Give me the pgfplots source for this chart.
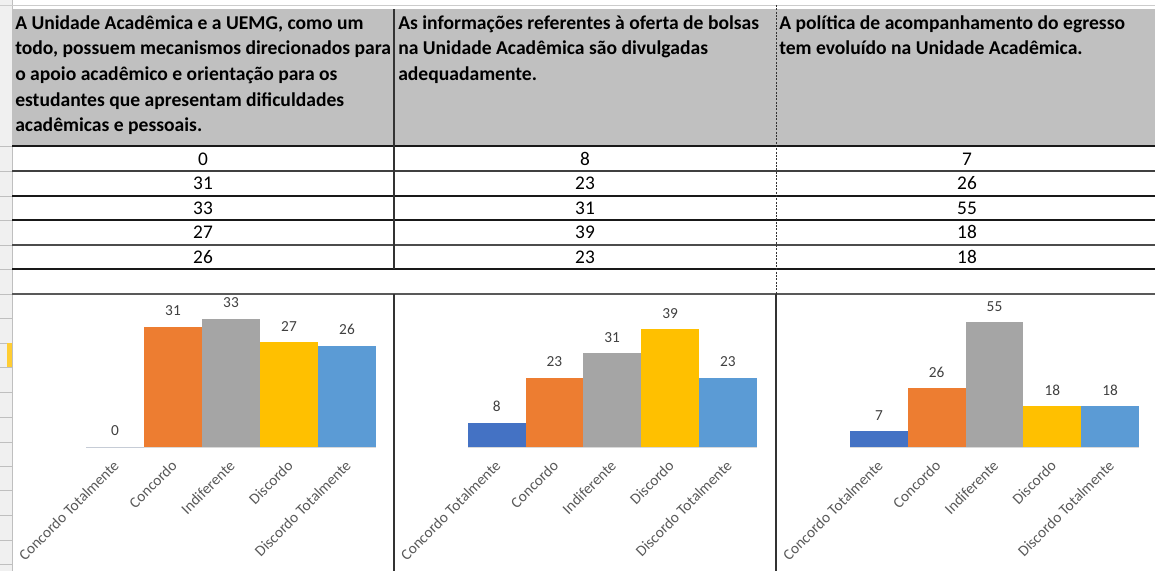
\documentclass[border=0pt]{standalone}
\usepackage{pgfplots}
\pgfplotsset{compat=1.18}
\usepackage{fontspec}
\setmainfont{Carlito}

\definecolor{hdrgray}{HTML}{C0C0C0}
\definecolor{cblue}{HTML}{4472C4}
\definecolor{corange}{HTML}{ED7D31}
\definecolor{cgray}{HTML}{A5A5A5}
\definecolor{cgold}{HTML}{FFC000}
\definecolor{clblue}{HTML}{5B9BD5}
\definecolor{ticktext}{HTML}{595959}
\definecolor{labeltext}{HTML}{404040}

\pgfplotsset{
  likert/.style={
    scale only axis, width=216.75pt, height=102pt,
    anchor=south west,
    xmin=-0.5, xmax=4.5, ymin=0,
    axis x line*=bottom, hide y axis,
    x axis line style={draw=black!15, line width=0.75pt},
    xtick={0,1,2,3,4},
    xtick style={draw=none},
    xticklabels={Concordo Totalmente, Concordo, Indiferente, Discordo, Discordo Totalmente},
    xticklabel style={font=\fontsize{11.5}{13}\selectfont, text=ticktext,
      yshift=-6pt, xshift=-2pt, rotate=45, anchor=north east, inner sep=2pt},
    clip=false,
    nodes near coords,
    nodes near coords style={font=\fontsize{11.5}{13}\selectfont, text=labeltext,
      anchor=south, inner sep=0pt, yshift=8pt},
    /pgf/number format/assume math mode=true,
    every axis plot/.append style={ybar, bar width=43.35pt, draw=none},
  }
}

\begin{document}
\begin{tikzpicture}
\useasboundingbox (0,0) rectangle (866.25pt,-428.25pt);
\begin{scope}[x=0.75pt, y=-0.75pt]
  % row header strip of the sheet
  \fill[black!6] (0,0) rectangle (12,571);
  \draw[black!25] (12,0) -- (12,571);
  \draw[black!20] (0,5) -- (1155,5);
  \foreach \yy in {146,171,196,220,245,269,294,318,343,367,392,417,442,466,490,515,540,564}
    \draw[black!25] (0,\yy) -- (12,\yy);
  \fill[cgold!80] (7,343) rectangle (12,367);
  % header
  \fill[hdrgray] (12,9) rectangle (1155,146);
  % grid
  \foreach \yy/\cc in {146/black!90,171/black!75,196/black!90,220/black!90,245/black!70,269/black!90,294/black!65}
    \draw[\cc, line width=0.9pt] (12,\yy) -- (1155,\yy);
  \draw[black!80, line width=0.9pt] (394,9) -- (394,269);
  \draw[black!80, line width=0.9pt] (394,294) -- (394,571);
  \draw[black!80, dash pattern=on 1.5pt off 1pt, line width=0.75pt] (776,5) -- (776,294);
  \draw[black!80, line width=0.9pt] (776,294) -- (776,571);
  % header text
  \begin{scope}[every node/.style={anchor=base west, inner sep=0pt, font=\bfseries\fontsize{14.7}{18}\selectfont}]
    \node at (15,29.3) {A Unidade Acadêmica e a UEMG, como um};
    \node at (15,54.9) {todo, possuem mecanismos direcionados para};
    \node at (15,80.5) {o apoio acadêmico e orientação para os};
    \node at (15,106.1) {estudantes que apresentam dificuldades};
    \node at (15,131.7) {acadêmicas e pessoais.};
    \node at (398,29.3) {As informações referentes à oferta de bolsas};
    \node at (398,54.9) {na Unidade Acadêmica são divulgadas};
    \node at (398,80.5) {adequadamente.};
    \node at (779,29.3) {A política de acompanhamento do egresso};
    \node at (779,54.9) {tem evoluído na Unidade Acadêmica.};
  \end{scope}
  % table values
  \begin{scope}[every node/.style={anchor=base, inner sep=0pt, font=\fontsize{14.5}{18}\selectfont}]
    \foreach \v/\yy in {0/165,31/189.5,33/214,27/238.5,26/263} \node at (203,\yy) {\v};
    \foreach \v/\yy in {8/165,23/189.5,31/214,39/238.5,23/263} \node at (585,\yy) {\v};
    \foreach \v/\yy in {7/165,26/189.5,55/214,18/238.5,18/263} \node at (967,\yy) {\v};
  \end{scope}
\end{scope}

% chart 1
\begin{axis}[likert, at={(64.5pt,-335.25pt)}, width=217.5pt, ymax=35, every axis plot/.append style={bar width=43.5pt}]
  \addplot[fill=cblue] coordinates {(0,0)};
  \addplot[fill=corange] coordinates {(1,31)};
  \addplot[fill=cgray] coordinates {(2,33)};
  \addplot[fill=cgold] coordinates {(3,27)};
  \addplot[fill=clblue] coordinates {(4,26)};
\end{axis}

% chart 2
\begin{axis}[likert, at={(350.8pt,-335.25pt)}, ymax=45]
  \addplot[fill=cblue] coordinates {(0,8)};
  \addplot[fill=corange] coordinates {(1,23)};
  \addplot[fill=cgray] coordinates {(2,31)};
  \addplot[fill=cgold] coordinates {(3,39)};
  \addplot[fill=clblue] coordinates {(4,23)};
\end{axis}

% chart 3
\begin{axis}[likert, at={(637.5pt,-335.25pt)}, ymax=60]
  \addplot[fill=cblue] coordinates {(0,7)};
  \addplot[fill=corange] coordinates {(1,26)};
  \addplot[fill=cgray] coordinates {(2,55)};
  \addplot[fill=cgold] coordinates {(3,18)};
  \addplot[fill=clblue] coordinates {(4,18)};
\end{axis}
\end{tikzpicture}
\end{document}
